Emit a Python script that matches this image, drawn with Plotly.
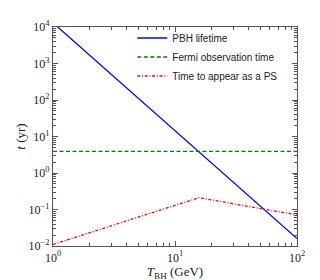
import plotly.graph_objects as go

# Data
T_lifetime = [1, 100]
t_lifetime = [1.3e4, 0.016]
T_fermi = [1, 100]
t_fermi = [3.9, 3.9]
T_ps = [1, 15.7, 100]
t_ps = [0.011, 0.21, 0.071]

x_exps = [0, 1, 2]
y_exps = [-2, -1, 0, 1, 2, 3, 4]

def major(exps):
    vals = [10 ** e for e in exps]
    txt = ["10<sup>%s</sup>" % (str(e) if e >= 0 else "\u2212" + str(-e)) for e in exps]
    return vals, txt

def minor(exps):
    out = []
    for e in exps[:-1]:
        out += [m * 10 ** e for m in range(2, 10)]
    return out

fig = go.Figure()
fig.add_trace(go.Scatter(x=T_lifetime, y=t_lifetime, mode="lines",
                         name="PBH lifetime", line=dict(color="#0000ff", width=1.3)))
fig.add_trace(go.Scatter(x=T_fermi, y=t_fermi, mode="lines",
                         name="Fermi observation time",
                         line=dict(color="#008000", width=1.3, dash="4px,2.5px")))
fig.add_trace(go.Scatter(x=T_ps, y=t_ps, mode="lines",
                         name="Time to appear as a PS",
                         line=dict(color="#ff0000", width=1.3, dash="3px,1.7px,1px,1.7px")))

tickfont = dict(family="Liberation Serif", size=12, color="#222222")
line_col = "#555555"

xv, xt = major(x_exps)
yv, yt = major(y_exps)

# the page body has an 8px margin, so margins are reduced accordingly
fig.update_layout(
    width=320, height=280,
    margin=dict(l=45, r=31, t=19, b=42, autoexpand=False),
    paper_bgcolor="white", plot_bgcolor="white",
    showlegend=True,
    legend=dict(x=0.325, y=1.016, xanchor="left", yanchor="top",
                bgcolor="rgba(0,0,0,0)", borderwidth=0,
                font=dict(family="Liberation Sans", size=10, color="#222222"),
                tracegroupgap=0, itemwidth=30),
    xaxis=dict(type="log", range=[0, 2], showgrid=False, zeroline=False, automargin=False,
               showline=True, linecolor=line_col, linewidth=1.2, mirror="allticks",
               ticks="inside", ticklen=5, tickcolor=line_col,
               tickmode="array", tickvals=xv, ticktext=xt, tickfont=tickfont,
               minor=dict(tickmode="array", tickvals=minor(x_exps), ticks="inside",
                          ticklen=2.5, tickcolor=line_col, showgrid=False),
               title=dict(text="<i>T</i><sub>BH</sub> (GeV)", standoff=0,
                          font=dict(family="Liberation Serif", size=13, color="#222222"))),
    yaxis=dict(type="log", range=[-2, 4], showgrid=False, zeroline=False, automargin=False,
               showline=True, linecolor=line_col, linewidth=1.2, mirror="allticks",
               ticks="inside", ticklen=5, tickcolor=line_col,
               tickmode="array", tickvals=yv, ticktext=yt, tickfont=tickfont,
               minor=dict(tickmode="array", tickvals=minor(y_exps), ticks="inside",
                          ticklen=2.5, tickcolor=line_col, showgrid=False),
               title=dict(text="<i>t</i> (yr)", standoff=0,
                          font=dict(family="Liberation Serif", size=13, color="#222222"))),
)

fig.write_html("out.html")
